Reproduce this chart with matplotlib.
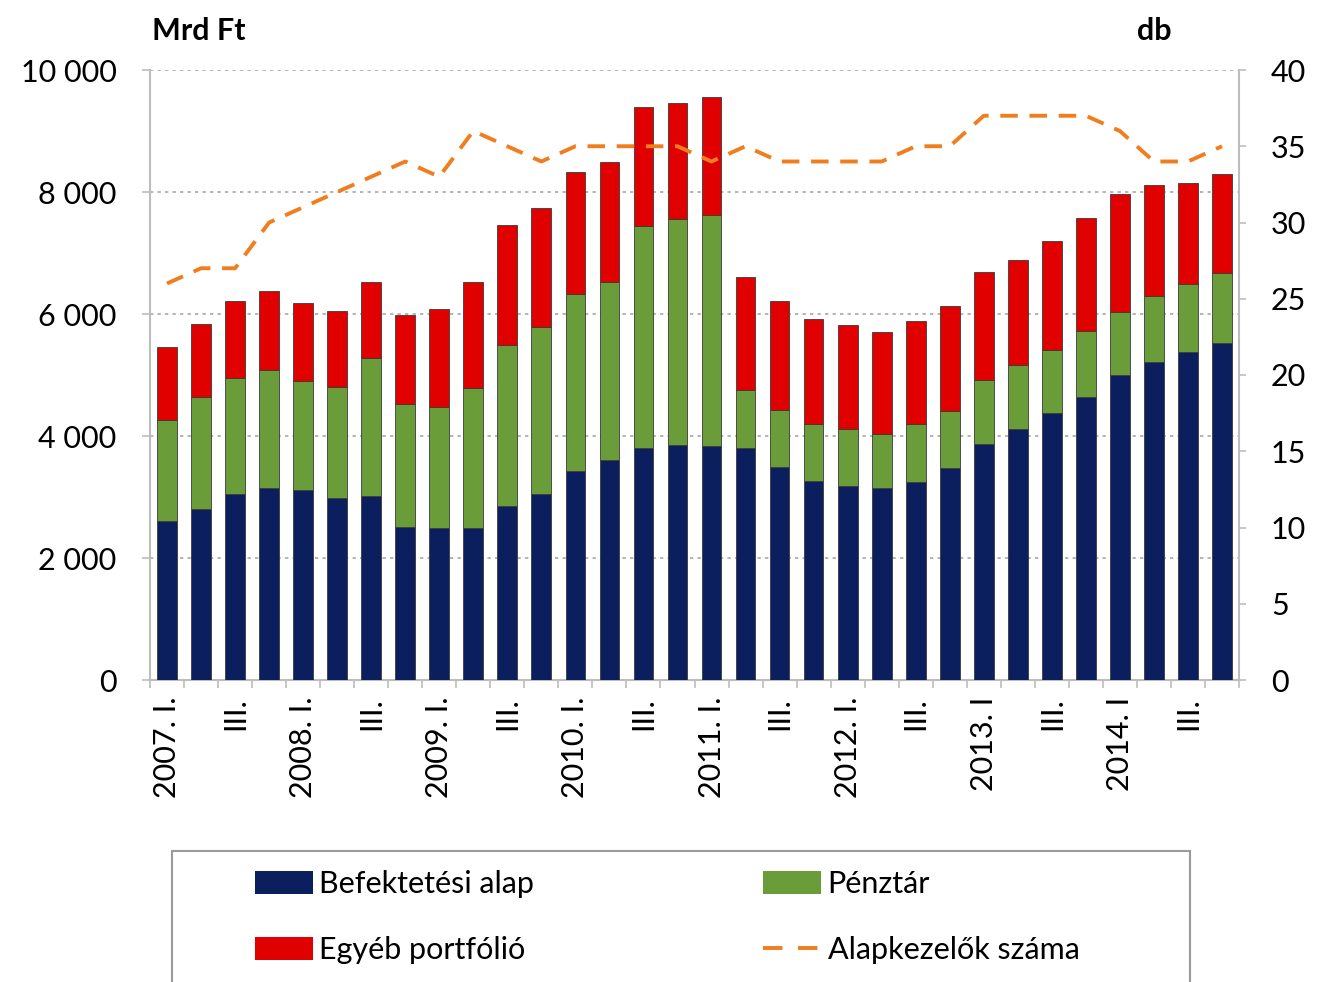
import matplotlib
matplotlib.use("Agg")
import matplotlib.pyplot as plt
from matplotlib.patches import Rectangle, Patch
from matplotlib.lines import Line2D
import numpy as np

plt.rcParams['font.family'] = ['Lato', 'DejaVu Sans']

quarters = ["2007. I.", "", "III.", "", "2008. I.", "", "III.", "", "2009. I.", "", "III.", "",
            "2010. I.", "", "III.", "", "2011. I.", "", "III.", "", "2012. I.", "", "III.", "",
            "2013. I", "", "III.", "", "2014. I", "", "III.", ""]

befektetesi = [2610, 2810, 3050, 3150, 3120, 2980, 3010, 2510, 2490, 2490, 2860, 3050,
               3420, 3600, 3800, 3850, 3830, 3800, 3500, 3270, 3180, 3150, 3250, 3470,
               3870, 4120, 4380, 4640, 5000, 5210, 5380, 5530]
penztar = [1660, 1830, 1900, 1940, 1780, 1830, 2270, 2010, 1980, 2290, 2630, 2730,
           2910, 2930, 3650, 3710, 3790, 950, 920, 920, 930, 890, 940, 940,
           1040, 1040, 1030, 1080, 1040, 1090, 1120, 1140]
egyeb = [1190, 1200, 1260, 1290, 1280, 1240, 1250, 1460, 1620, 1750, 1970, 1950,
         2000, 1960, 1940, 1900, 1930, 1850, 1800, 1730, 1710, 1670, 1700, 1720,
         1780, 1730, 1790, 1860, 1930, 1810, 1650, 1620]
alapkezelok = [26, 27, 27, 30, 31, 32, 33, 34, 33, 36, 35, 34,
               35, 35, 35, 35, 34, 35, 34, 34, 34, 34, 35, 35,
               37, 37, 37, 37, 36, 34, 34, 35]

series_names = ["Befektetési alap", "Pénztár", "Egyéb portfólió", "Alapkezelők száma"]
c_navy = "#0B1F5E"
c_green = "#6A9C3A"
c_red = "#E00000"
c_orange = "#F07D1E"
grey = "#BDBDBD"

W, H = 1318, 982
fig = plt.figure(figsize=(W / 100, H / 100), dpi=100)
ax = fig.add_axes([150 / W, 1 - 680 / H, (1239 - 150) / W, (680 - 70) / H])

x = np.arange(len(befektetesi))
b1 = np.array(befektetesi)
b2 = np.array(penztar)
b3 = np.array(egyeb)
bw = 0.58
ec = "#3a3a3a"
ax.bar(x, b1, bw, color=c_navy, edgecolor=ec, linewidth=0.6, zorder=3)
ax.bar(x, b2, bw, bottom=b1, color=c_green, edgecolor=ec, linewidth=0.6, zorder=3)
ax.bar(x, b3, bw, bottom=b1 + b2, color=c_red, edgecolor=ec, linewidth=0.6, zorder=3)

ax.set_xlim(-0.5, len(x) - 0.5)
ax.set_ylim(0, 10000)
yt = np.arange(0, 10001, 2000)
ax.set_yticks(yt)
ax.set_yticklabels([f"{v:,}".replace(",", " ") for v in yt], fontsize=22)
for v in yt[1:]:
    ax.axhline(v, color="#A8A8A8", lw=1.2, ls=(0, (2, 2.5)), zorder=1)

ax.set_xticks(np.arange(-0.5, len(x), 1.0))
ax.set_xticklabels([])
ax.set_xticks(x, minor=True)
ax.set_xticklabels(quarters, minor=True, rotation=90, fontsize=22, va="top", ha="center")
ax.tick_params(axis="x", which="major", length=6, color=grey, width=1.2)
ax.tick_params(axis="x", which="minor", length=0, pad=12)
ax.tick_params(axis="y", length=6, color=grey, width=1.2, pad=18)

for s in ["top", "right"]:
    ax.spines[s].set_visible(False)
for s in ["left", "bottom"]:
    ax.spines[s].set_color(grey)
    ax.spines[s].set_linewidth(1.5)

ax2 = ax.twinx()
ax2.plot(x, alapkezelok, color=c_orange, lw=2.8, ls=(0, (4.5, 3)), zorder=5)
ax2.set_ylim(0, 40)
ax2.set_yticks(np.arange(0, 41, 5))
ax2.tick_params(axis="y", labelsize=22, length=5, color=grey, width=1.2, pad=18)
for s in ["top", "left", "bottom"]:
    ax2.spines[s].set_visible(False)
ax2.spines["right"].set_color(grey)
ax2.spines["right"].set_linewidth(1.5)

fig.text(152 / W, 1 - 31 / H, "Mrd Ft", fontsize=22, fontweight="bold", va="center", ha="left")
fig.text(1137 / W, 1 - 31 / H, "db", fontsize=22, fontweight="bold", va="center", ha="left")

# legend frame
fig.patches.append(Rectangle((172 / W, -0.02), (1190 - 172) / W, (1 - 851 / H) + 0.02,
                             transform=fig.transFigure, fill=False, edgecolor="#9A9A9A", lw=1.5))
handles = [Patch(facecolor=c_navy), Patch(facecolor=c_red),
           Patch(facecolor=c_green), Line2D([0], [0], color=c_orange, lw=2.8, ls=(0, (5, 4)))]
labels = [series_names[0], series_names[2], series_names[1], series_names[3]]
fig.legend(handles, labels, ncol=2, loc="upper left", bbox_to_anchor=(255 / W, 1 - 870 / H),
           frameon=False, fontsize=22, handlelength=1.9, handleheight=0.75, handletextpad=0.2,
           columnspacing=7.5, labelspacing=1.25, borderpad=0, borderaxespad=0)

fig.savefig("out.png", dpi=100)
